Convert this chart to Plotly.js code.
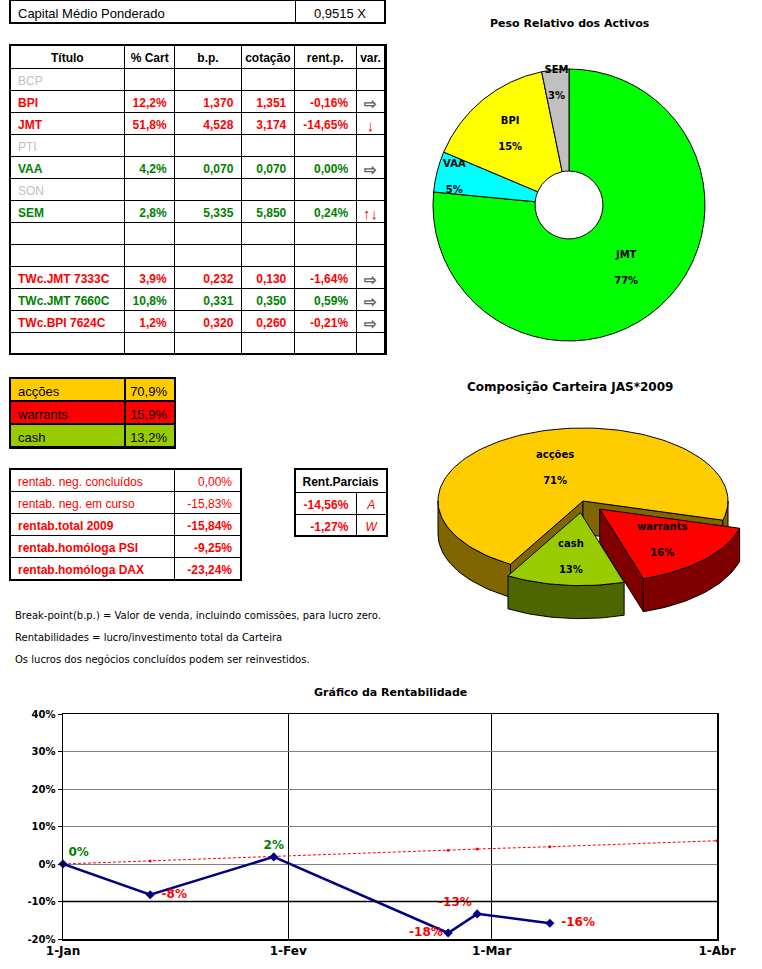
<!DOCTYPE html>
<html>
<head>
<meta charset="utf-8">
<script src="https://cdn.plot.ly/plotly-3.0.1.min.js"></script>
<style>
  html, body { margin: 0; padding: 0; background: #fff; }
  #chart { width: 762px; height: 969px; }
</style>
</head>
<body>
<div id="chart"></div>
<script>
// ---- data ----
const capitalLabel = 'Capital Médio Ponderado';
const capitalValue = 0.9515;

const tableHeader = ['Título', '% Cart', 'b.p.', 'cotação', 'rent.p.', 'var.'];
const titulos   = ['BCP', 'BPI', 'JMT', 'PTI', 'VAA', 'SON', 'SEM', '', '', 'TWc.JMT 7333C', 'TWc.JMT 7660C', 'TWc.BPI 7624C', ''];
const pctCart   = [null, 12.2, 51.8, null, 4.2, null, 2.8, null, null, 3.9, 10.8, 1.2, null];
const breakPt   = [null, 1.370, 4.528, null, 0.070, null, 5.335, null, null, 0.232, 0.331, 0.320, null];
const cotacao   = [null, 1.351, 3.174, null, 0.070, null, 5.850, null, null, 0.130, 0.350, 0.260, null];
const rentP     = [null, -0.16, -14.65, null, 0.00, null, 0.24, null, null, -1.64, 0.59, -0.21, null];
const variacao  = ['', 'flat', 'down', '', 'flat', '', 'updown', '', '', 'flat', 'flat', 'flat', ''];

const pesoLabels = ['JMT', 'VAA', 'BPI', 'SEM'];
const pesoValues = [66.5, 4.2, 13.4, 2.8];

const allocLabels = ['acções', 'warrants', 'cash'];
const allocValues = [70.9, 15.9, 13.2];

const rentLabels = ['rentab. neg. concluídos', 'rentab. neg. em curso', 'rentab.total 2009',
                    'rentab.homóloga PSI', 'rentab.homóloga DAX'];
const rentValues = [0.00, -15.83, -15.84, -9.25, -23.24];

const parcLabels = ['A', 'W'];
const parcValues = [-14.56, -1.27];

const notes = [
    'Break-point(b.p.) = Valor de venda, incluindo comissões, para lucro zero.',
    'Rentabilidades = lucro/investimento total da Carteira',
    'Os lucros dos negócios concluídos podem ser reinvestidos.'
];

const rentDates  = ['2009-01-01', '2009-01-13', '2009-01-30', '2009-02-23', '2009-02-27', '2009-03-09'];
const rentSeries = [0, -8.2, 1.9, -18.4, -13.3, -15.8];
const refDates   = ['2009-01-01', '2009-01-13', '2009-01-30', '2009-02-23', '2009-02-27', '2009-03-09', '2009-04-01'];
const refSeries  = [0, 0.8, 1.9, 3.7, 4.0, 4.6, 6.2];
const stopLevel  = -10;

const monthTicks  = ['2009-01-01', '2009-02-01', '2009-03-01', '2009-04-01'];
const monthLabels = ['1-Jan', '1-Fev', '1-Mar', '1-Abr'];
const yTicks      = [-20, -10, 0, 10, 20, 30, 40];

// ---- styling ----
const W = 762, H = 969;
const FONT = 'DejaVu Sans';
const TFONT = 'Liberation Sans';
const RED = '#ff0000', GREEN = '#008000', GREY = '#c0c0c0';

const pesoColors  = ['#00ff00', '#00ffff', '#ffff00', '#c0c0c0'];
const allocTop    = ['#ffcc00', '#ff0000', '#99cc00'];
const allocSide   = ['#806600', '#800000', '#4d6600'];
const rentLabelPos = ['top right', 'middle right', 'top center', 'middle left', 'top left', 'middle right'];
const arrowGlyph = { flat: '⇨', down: '↓', updown: '↑↓', '': '' };
const arrowColor = { flat: '#606060', down: RED, updown: RED, '': '#000' };

// page boxes in pixels: [left, top, right, bottom]
const capBox   = [10, 0, 385, 23];
const mainBox  = [10, 45, 386, 356];
const allocBox = [10, 378, 175, 448];
const rentBox  = [10, 469, 241, 580];
const parcHead = [295, 469, 387, 493];
const parcBox  = [295, 492, 387, 536];

const fmt = (v, d) => v.toFixed(d).replace('.', ',');
const pct = (v, d) => fmt(v, d) + '%';
const dom = b => ({ x: [b[0] / W, b[2] / W], y: [1 - b[3] / H, 1 - b[1] / H] });
const bold = s => '<b>' + s + '</b>';
const nb = s => s.replace(/ /g, '\u00a0');

function frame(b, w) {
    return {
        type: 'rect', xref: 'paper', yref: 'paper', layer: 'above',
        x0: b[0] / W, x1: b[2] / W, y0: 1 - b[3] / H, y1: 1 - b[1] / H,
        line: { color: '#000', width: w }
    };
}

function grid(cols, rows, fn) {
    const out = [];
    for (let c = 0; c < cols; c++) {
        const col = [];
        for (let r = 0; r < rows; r++) col.push(fn(r, c));
        out.push(col);
    }
    return out;
}

// tables with only one visible row still get a 1px blank body row
const blankBody = n => ({
    values: Array.from({ length: n }, () => ['']), height: 1,
    fill: { color: '#fff' }, line: { color: '#fff', width: 0 }
});
const tf = (color, weight, extra) => Object.assign({ family: TFONT, size: 12, color: color, weight: weight || 'normal' }, extra || {});

// ---- tables ----
const traces = [];

traces.push({
    type: 'table', domain: dom(capBox), columnwidth: [285, 90],
    header: {
        values: [nb(capitalLabel), nb(fmt(capitalValue, 4) + ' X')], height: 22,
        align: ['left', 'center'], fill: { color: '#fff' },
        font: tf('#000', 'normal', { size: 13 }),
        line: { color: '#000', width: 1 }
    },
    cells: blankBody(2)
});

const rowColor = titulos.map((t, i) => {
    if (pctCart[i] === null) return t ? GREY : '#000';
    return rentP[i] >= 0 ? GREEN : RED;
});
const num = (arr, d, suf) => arr.map(v => v === null ? '' : fmt(v, d) + (suf || ''));
const nRows = titulos.length;

traces.push({
    type: 'table', domain: dom(mainBox), columnwidth: [115, 50, 67, 53, 62, 29],
    header: {
        values: tableHeader.map(nb), height: 23, align: 'center',
        fill: { color: '#fff' }, font: tf('#000', 'bold'),
        line: { color: '#000', width: 1 }
    },
    cells: {
        values: [
            titulos.map(nb),
            num(pctCart, 1, '%'), num(breakPt, 3), num(cotacao, 3), num(rentP, 2, '%'),
            variacao.map(v => arrowGlyph[v])
        ],
        height: 22, align: ['left', 'right', 'right', 'right', 'right', 'center'],
        fill: { color: '#fff' },
        font: {
            family: TFONT,
            size: grid(6, nRows, (r, c) => c === 5 ? 15 : 12),
            color: grid(6, nRows, (r, c) => c === 5 ? arrowColor[variacao[r]] : rowColor[r]),
            weight: grid(6, nRows, r => pctCart[r] === null ? 'normal' : 'bold')
        },
        line: { color: '#000', width: 1 }
    }
});

// allocation box: first row goes into the header slot
traces.push({
    type: 'table', domain: dom(allocBox), columnwidth: [115, 50],
    header: {
        values: [allocLabels[0], pct(allocValues[0], 1)], height: 23,
        align: ['left', 'right'], fill: { color: allocTop[0] },
        font: tf('#000', 'normal', { size: 13 }), line: { color: '#000', width: 2 }
    },
    cells: {
        values: [allocLabels.slice(1), allocValues.slice(1).map(v => pct(v, 1))], height: 23,
        align: ['left', 'right'], fill: { color: grid(2, 2, r => allocTop[r + 1]) },
        font: tf('#000', 'normal', { size: 13 }), line: { color: '#000', width: 2 }
    }
});

const rentWeight = i => i >= 2 ? 'bold' : 'normal';
traces.push({
    type: 'table', domain: dom(rentBox), columnwidth: [165, 66],
    header: {
        values: [nb(rentLabels[0]), pct(rentValues[0], 2)], height: 22,
        align: ['left', 'right'], fill: { color: '#fff' },
        font: tf(RED, rentWeight(0)), line: { color: '#000', width: 1 }
    },
    cells: {
        values: [rentLabels.slice(1).map(nb), rentValues.slice(1).map(v => pct(v, 2))],
        height: 22, align: ['left', 'right'], fill: { color: '#fff' },
        font: { family: TFONT, size: 12, color: RED, weight: grid(2, rentLabels.length - 1, r => rentWeight(r + 1)) },
        line: { color: '#000', width: 1 }
    }
});

traces.push({
    type: 'table', domain: dom(parcHead), columnwidth: [92],
    header: {
        values: ['Rent.Parciais'], height: 23, align: 'center', fill: { color: '#fff' },
        font: tf('#000', 'bold'), line: { color: '#000', width: 1 }
    },
    cells: blankBody(1)
});
traces.push({
    type: 'table', domain: dom(parcBox), columnwidth: [62, 30],
    header: {
        values: [pct(parcValues[0], 2), parcLabels[0]], height: 22,
        align: ['right', 'center'], fill: { color: '#fff' },
        font: { family: TFONT, size: 12, color: RED, weight: ['bold', 'normal'], style: ['normal', 'italic'] },
        line: { color: '#000', width: 1 }
    },
    cells: {
        values: [parcValues.slice(1).map(v => pct(v, 2)), parcLabels.slice(1)],
        height: 22, align: ['right', 'center'], fill: { color: '#fff' },
        font: { family: TFONT, size: 12, color: RED, weight: ['bold', 'normal'], style: ['normal', 'italic'] },
        line: { color: '#000', width: 1 }
    }
});

// ---- donut: Peso Relativo dos Activos ----
traces.push({
    type: 'pie', domain: dom([433, 69, 705, 341]),
    labels: pesoLabels, values: pesoValues, sort: false,
    direction: 'clockwise', rotation: 0, hole: 0.25,
    marker: { colors: pesoColors, line: { color: '#000', width: 1 } },
    texttemplate: '<b>%{label}</b><br><br><b>%{percent:.0%}</b>',
    textposition: 'inside', insidetextorientation: 'horizontal',
    textfont: { family: FONT, size: 10, color: '#000' },
    showlegend: false, hoverinfo: 'skip'
});

// ---- 3D pie: Composição Carteira (drawn as extruded ellipse on a pixel axis) ----
const pie3d = { cx: 583, cy: 501, rx: 145, ry: 73, depth: 33, start: 210, pull: [0, 0.16, 0.16], labelR: [0.5, 0.6, 0.6] };
const pieNotes = [];
(function buildPie3d() {
    const total = allocValues.reduce((a, b) => a + b, 0);
    const rad = d => d * Math.PI / 180;
    let a = pie3d.start;
    allocValues.forEach((v, i) => {
        const a0 = a, a1 = a + v / total * 360;
        a = a1;
        const mid = (a0 + a1) / 2;
        const ox = pie3d.pull[i] * pie3d.rx * Math.sin(rad(mid));
        const oy = -pie3d.pull[i] * pie3d.ry * Math.cos(rad(mid));
        const P = (t, dz, f) => {
            f = f === undefined ? 1 : f;
            return [pie3d.cx + ox + f * pie3d.rx * Math.sin(rad(t)), pie3d.cy + oy - f * pie3d.ry * Math.cos(rad(t)) + dz];
        };
        const arc = (lo, hi, dz) => {
            const pts = [];
            const n = Math.max(2, Math.ceil((hi - lo) / 2));
            for (let k = 0; k <= n; k++) pts.push(P(lo + (hi - lo) * k / n, dz));
            return pts;
        };
        const poly = (pts, color) => traces.push({
            type: 'scatter', mode: 'lines', xaxis: 'x2', yaxis: 'y2',
            x: pts.map(p => p[0]), y: pts.map(p => p[1]),
            fill: 'toself', fillcolor: color, line: { color: '#000', width: 1 },
            hoverinfo: 'skip', showlegend: false
        });
        const C = P(0, 0, 0), Cd = P(0, pie3d.depth, 0);
        // radial walls facing the viewer
        [[a0, a0 - 90], [a1, a1 + 90]].forEach(([t, normal]) => {
            if (Math.cos(rad(normal)) < 0) {
                const p = P(t, 0), pd = P(t, pie3d.depth);
                poly([C, p, pd, Cd, C], allocSide[i]);
            }
        });
        // outer rim (front half only)
        for (let k = -1; k <= 2; k++) {
            const lo = Math.max(a0, 90 + 360 * k), hi = Math.min(a1, 270 + 360 * k);
            if (hi > lo) {
                const top = arc(lo, hi, 0), bot = arc(lo, hi, pie3d.depth).reverse();
                poly(top.concat(bot, [top[0]]), allocSide[i]);
            }
        }
        // top face
        poly([C].concat(arc(a0, a1, 0), [C]), allocTop[i]);
        const L = P(mid, 0, pie3d.labelR[i]);
        pieNotes.push({
            xref: 'x2', yref: 'y2', x: L[0], y: L[1], showarrow: false,
            xanchor: 'center', yanchor: 'middle',
            text: bold(allocLabels[i]) + '<br><br>' + bold(Math.round(v / total * 100) + '%'),
            font: { family: FONT, size: 10, color: '#000' }
        });
    });
})();

// ---- line chart: Gráfico da Rentabilidade ----
traces.push({
    type: 'scatter', mode: 'lines+markers', x: refDates, y: refSeries,
    line: { color: RED, width: 1, dash: '3px,2px' }, marker: { color: RED, size: 3 },
    hoverinfo: 'skip', showlegend: false
});
traces.push({
    type: 'scatter', mode: 'lines+markers+text', x: rentDates, y: rentSeries,
    line: { color: '#000080', width: 2.5 },
    marker: { color: '#000080', size: 7, symbol: 'diamond' },
    text: rentSeries.map((v, i) => (rentLabelPos[i] === 'middle right' ? '\u2002' : '') + bold(Math.round(v) + '%')),
    textposition: rentLabelPos,
    textfont: { family: FONT, size: 12, color: rentSeries.map(v => Math.round(v) >= 0 ? GREEN : RED) },
    cliponaxis: false, hoverinfo: 'skip', showlegend: false
});

const ann = (text, px, py, size, opts) => Object.assign({
    xref: 'paper', yref: 'paper', x: px / W, y: 1 - py / H, showarrow: false,
    xanchor: 'center', yanchor: 'middle',
    text: text, font: { family: FONT, size: size, color: '#000' }
}, opts || {});

const annotations = [
    ann(bold('Peso Relativo dos Activos'), 570, 23, 11),
    ann(bold('Composição Carteira JAS*2009'), 570, 387, 12),
    ann(bold('Gráfico da Rentabilidade'), 390, 692, 11)
].concat(notes.map((t, i) => ann(t, 13, 615 + i * 22, 10, { xanchor: 'left' })), pieNotes);

const shapes = [
    frame([capBox[0], -3, capBox[2], capBox[3]], 2),
    frame([mainBox[0], mainBox[1], mainBox[2], 354], 2),
    frame(allocBox, 2),
    frame(rentBox, 2),
    frame([parcHead[0], parcHead[1], parcBox[2], parcBox[3]], 2),
    { type: 'line', xref: 'x domain', yref: 'y', x0: 0, x1: 1, y0: stopLevel, y1: stopLevel, line: { color: '#000', width: 1.5 } }
];

const layout = {
    width: W, height: H,
    margin: { t: 0, r: 0, b: 0, l: 0 },
    paper_bgcolor: '#fff', plot_bgcolor: 'rgba(0,0,0,0)',
    font: { family: FONT, color: '#000' },
    showlegend: false,
    uniformtext: { minsize: 10, mode: 'show' },
    xaxis: {
        type: 'date', domain: [63 / W, 717 / W], anchor: 'y',
        range: ['2009-01-01', '2009-04-01'],
        tickmode: 'array', tickvals: monthTicks, ticktext: monthLabels,
        showgrid: true, gridcolor: '#000', gridwidth: 1,
        showline: true, mirror: true, linecolor: '#000', linewidth: 1.5,
        ticks: '', tickfont: { family: FONT, size: 12, weight: 'bold', color: '#000' },
        fixedrange: true
    },
    yaxis: {
        domain: [1 - 939 / H, 1 - 714 / H], anchor: 'x',
        range: [-20, 40], tickmode: 'array', tickvals: yTicks, ticktext: yTicks.map(v => v + '%'),
        showgrid: true, gridcolor: '#808080', gridwidth: 1, zeroline: false,
        showline: true, mirror: true, linecolor: '#000', linewidth: 1.5,
        ticks: 'outside', ticklen: 4, tickcolor: '#000',
        tickfont: { family: FONT, size: 10, weight: 'bold', color: '#000' },
        fixedrange: true
    },
    xaxis2: { domain: [430 / W, 1], range: [430, 762], anchor: 'y2', visible: false, fixedrange: true },
    yaxis2: { domain: [1 - 645 / H, 1 - 395 / H], range: [645, 395], anchor: 'x2', visible: false, fixedrange: true },
    annotations: annotations,
    shapes: shapes
};

Plotly.newPlot('chart', traces, layout, { displayModeBar: false, staticPlot: true });
</script>
</body>
</html>
